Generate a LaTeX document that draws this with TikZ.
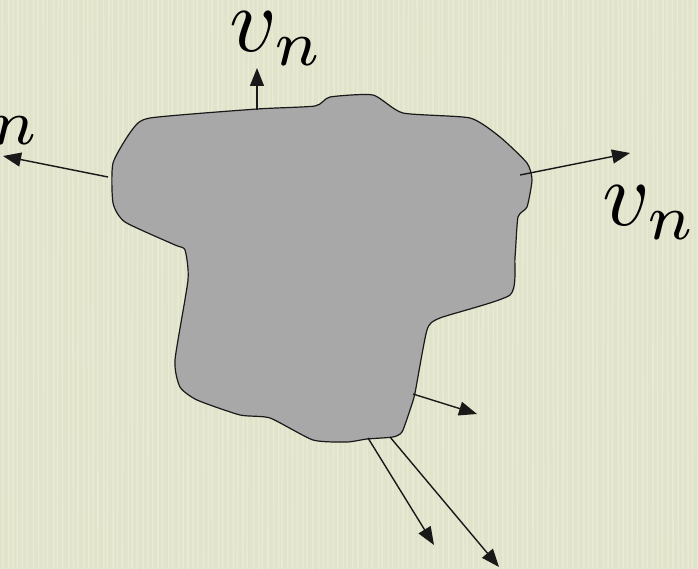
\documentclass[tikz,border=0pt]{standalone}
\usepackage{amsmath,amssymb}
\usepackage{tikz}
\usetikzlibrary{arrows.meta}
\usepackage{xcolor}
\definecolor{paper}{RGB}{226, 227, 203}
\definecolor{streak}{RGB}{240, 240, 222}
\definecolor{region}{RGB}{168, 168, 168}
\definecolor{edge}{RGB}{25, 25, 25}

\begin{document}
\begin{tikzpicture}[x=1pt, y=-1pt,
    normal/.style={-{Triangle[length=18pt, width=14pt]}, line width=1.4pt, edge},
    lab/.style={scale=9.2, inner sep=0pt}
]
\useasboundingbox (0,0) rectangle (698,569);
\fill[paper] (0,0) rectangle (698,569);
\pgfmathsetseed{7}
\foreach \i in {2,7,...,697}
  \draw[streak, line width=1.6pt, opacity=0.55] (\i+rnd*2,0) -- (\i+rnd*2,569);

% the region
\draw[line width=1.2pt, edge, fill=region] plot[smooth cycle, tension=0.35] coordinates {
  (150,118) (257,109) (315,106) (330,97) (373,95) (403,113) (470,118)
  (500,137) (527,163) (532,180) (527,207) (518,217) (515,257) (510,295)
  (440,318) (427,330) (415,393) (410,410) (402,432) (393,437) (367,439)
  (347,442) (313,440) (270,418) (240,415) (197,400) (180,387) (175,360)
  (188,280) (185,250) (175,245) (125,222) (113,203) (113,163) (132,130)};

% normals
\coordinate (top0) at (257,110);  \coordinate (top1) at (257,68);
\coordinate (lft0) at (108,177);  \coordinate (lft1) at (3,156);
\coordinate (rgt0) at (520,175);  \coordinate (rgt1) at (630,153);
\coordinate (bot0) at (413,394);  \coordinate (bot1) at (477,414);
\coordinate (sa0) at (368,438);   \coordinate (sa1) at (434,545);
\coordinate (sb0) at (390,437);   \coordinate (sb1) at (499,567);

\draw[normal] (top0) -- (top1);
\draw[normal] (lft0) -- (lft1);
\draw[normal] (rgt0) -- (rgt1);
\draw[normal] (bot0) -- (bot1);
\draw[normal] (sa0) -- (sa1);
\draw[normal] (sb0) -- (sb1);

\node[lab] (vtop) at (277,39) {$v_n$};
\node[lab] (vrgt) at (650,213) {$v_n$};
\node[lab] (vlft) at (-6,118) {$v_n$};
\end{tikzpicture}
\end{document}
